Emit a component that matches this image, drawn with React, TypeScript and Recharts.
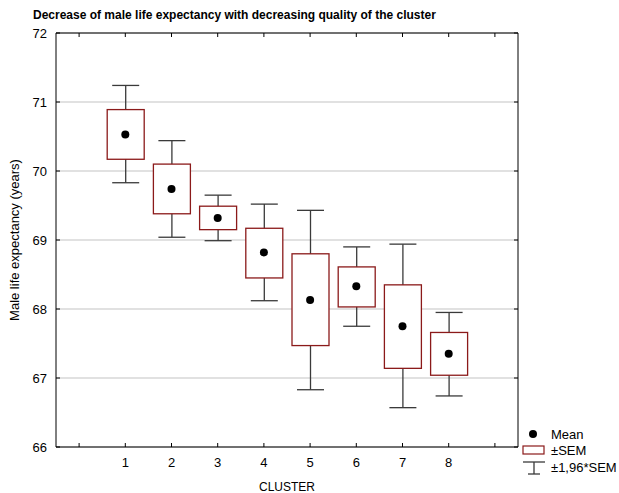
import React from "react";
import { ComposedChart, Bar, Line, XAxis, YAxis, CartesianGrid } from "recharts";

const clusters = ["1", "2", "3", "4", "5", "6", "7", "8"];
const means = [70.53, 69.74, 69.32, 68.82, 68.13, 68.33, 67.75, 67.35];
const semLow = [70.17, 69.38, 69.15, 68.45, 67.47, 68.03, 67.14, 67.04];
const semHigh = [70.89, 70.1, 69.49, 69.17, 68.8, 68.61, 68.35, 67.66];
const ciLow = [69.83, 69.04, 68.99, 68.12, 66.83, 67.75, 66.57, 66.74];
const ciHigh = [71.24, 70.44, 69.65, 69.52, 69.43, 68.9, 68.94, 67.95];
const yTicks = [66, 67, 68, 69, 70, 71, 72];

const FONT = "'Liberation Sans', Arial, sans-serif";
const BOX_RED = "#8b1a1a";
const WHISKER = "#3a3a3a";

interface Row {
  slot: number;
  label: string;
  mean?: number;
  sem?: [number, number];
  ci?: [number, number];
}

// one empty slot on each side, so the axis runs from 0 to 9 like the original
const rows: Row[] = [
  { slot: 0, label: "" },
  ...clusters.map((c, i) => ({
    slot: i + 1,
    label: c,
    mean: means[i],
    sem: [semLow[i], semHigh[i]] as [number, number],
    ci: [ciLow[i], ciHigh[i]] as [number, number],
  })),
  { slot: 9, label: "" },
];

const slotLabel = (v: number) => rows[v]?.label ?? "";

function okBox(p: any) {
  return [p.x, p.y, p.width, p.height].every((n) => Number.isFinite(n)) && p.payload?.ci;
}

function WhiskerShape(props: any) {
  if (!okBox(props)) return <g />;
  const { x, width } = props;
  const top = Math.min(props.y, props.y + props.height);
  const bottom = Math.max(props.y, props.y + props.height);
  const cx = x + width / 2;
  return (
    <g stroke={WHISKER} strokeWidth={1.3}>
      <line x1={x} x2={x + width} y1={top} y2={top} />
      <line x1={cx} x2={cx} y1={top} y2={bottom} />
      <line x1={x} x2={x + width} y1={bottom} y2={bottom} />
    </g>
  );
}

function BoxShape(props: any) {
  if (!okBox(props)) return <g />;
  const top = Math.min(props.y, props.y + props.height);
  const h = Math.abs(props.height);
  return (
    <rect
      x={props.x}
      y={top}
      width={props.width}
      height={h}
      fill="#fff"
      stroke={BOX_RED}
      strokeWidth={1.3}
    />
  );
}

function LegendBox() {
  return (
    <svg
      width={110}
      height={60}
      style={{ position: "absolute", left: 515, top: 422, overflow: "visible" }}
    >
      <g fontFamily={FONT} fontSize={13} fill="#000">
        <circle cx={18} cy={12} r={4} fill="#000" />
        <text x={36} y={16.5}>Mean</text>
        <rect x={8} y={24} width={21} height={8} fill="#fff" stroke={BOX_RED} strokeWidth={1.2} />
        <text x={36} y={32.5}>±SEM</text>
        <g stroke={WHISKER} strokeWidth={1.3}>
          <line x1={8} x2={30} y1={40} y2={40} />
          <line x1={19} x2={19} y1={40} y2={52} />
          <line x1={13} x2={25} y1={52} y2={52} />
        </g>
        <text x={36} y={49.5}>±1,96*SEM</text>
      </g>
    </svg>
  );
}

export default function App() {
  return (
    <div style={{ position: "relative", width: 619, height: 493, fontFamily: FONT }}>
      <style>{"body{margin:0;overflow:hidden}"}</style>
      <div
        style={{
          position: "absolute",
          left: 33,
          top: 8,
          fontSize: 12,
          fontWeight: "bold",
          whiteSpace: "nowrap",
          zIndex: 2,
        }}
      >
        Decrease of male life expectancy with decreasing quality of the cluster
      </div>
      <ComposedChart
        width={619}
        height={493}
        data={rows}
        margin={{ top: 32, right: 100, bottom: 0, left: 0 }}
      >
        <CartesianGrid vertical={false} stroke="#c4c4c4" strokeWidth={1.2} />
        <XAxis
          dataKey="slot"
          type="category"
          height={46}
          tickFormatter={slotLabel}
          tickSize={-4}
          tickMargin={15}
          tick={{ fontSize: 13, fill: "#000", fontFamily: FONT }}
          axisLine={{ stroke: "#000" }}
          tickLine={{ stroke: "#000" }}
          interval={0}
          label={{
            value: "CLUSTER",
            position: "insideBottom",
            offset: 2,
            fontSize: 12,
            fill: "#000",
            fontFamily: FONT,
          }}
        />
        <XAxis
          xAxisId="top"
          dataKey="slot"
          type="category"
          orientation="top"
          height={1}
          tickFormatter={() => ""}
          tickSize={-4}
          axisLine={{ stroke: "#000" }}
          tickLine={{ stroke: "#000" }}
          interval={0}
        />
        <XAxis xAxisId="box" dataKey="slot" type="category" hide />
        <YAxis
          width={56}
          domain={[66, 72]}
          ticks={yTicks}
          allowDataOverflow
          tickSize={-4}
          tickMargin={13}
          tick={{ fontSize: 13, fill: "#000", fontFamily: FONT }}
          axisLine={{ stroke: "#000" }}
          tickLine={{ stroke: "#000" }}
          label={{
            value: "Male life expectancy (years)",
            angle: -90,
            position: "insideLeft",
            offset: 14,
            fontSize: 13,
            fill: "#000",
            fontFamily: FONT,
            style: { textAnchor: "middle" },
          }}
        />
        <YAxis
          yAxisId="right"
          orientation="right"
          width={1}
          domain={[66, 72]}
          ticks={yTicks}
          allowDataOverflow
          tickFormatter={() => ""}
          tickSize={-4}
          axisLine={{ stroke: "#000" }}
          tickLine={{ stroke: "#000" }}
        />
        <Bar
          xAxisId="top"
          dataKey="ci"
          barSize={27}
          shape={WhiskerShape}
          isAnimationActive={false}
        />
        <Bar
          xAxisId="box"
          dataKey="sem"
          barSize={37}
          shape={BoxShape}
          isAnimationActive={false}
        />
        <Line
          yAxisId="right"
          dataKey="mean"
          stroke="none"
          dot={{ r: 4, fill: "#000", stroke: "none" }}
          activeDot={false}
          isAnimationActive={false}
        />
      </ComposedChart>
      <LegendBox />
    </div>
  );
}
